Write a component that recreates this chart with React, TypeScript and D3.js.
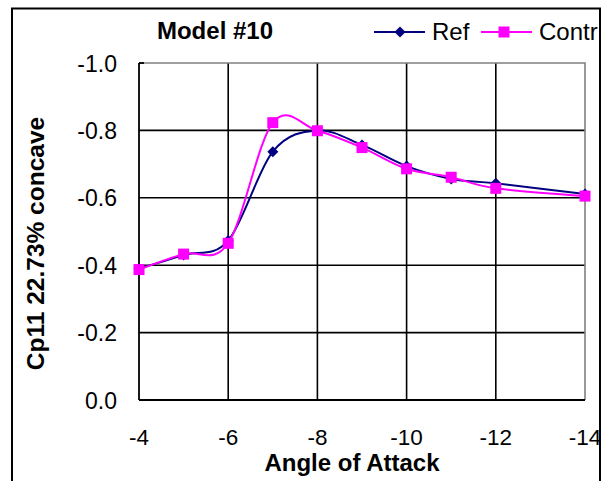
import React from "react";
import * as d3 from "d3";

const angles = [-4, -5, -6, -7, -8, -9, -10, -11, -12, -14];
const refValues = [-0.39, -0.43, -0.473, -0.737, -0.8, -0.757, -0.694, -0.656, -0.643, -0.611];
const contrValues = [-0.387, -0.433, -0.465, -0.823, -0.799, -0.749, -0.686, -0.661, -0.628, -0.605];
const xTicks = [-4, -6, -8, -10, -12, -14];
const yTicks = [0, -0.2, -0.4, -0.6, -0.8, -1.0];

const W = 605;
const H = 481;
const FONT = "'Liberation Sans', Arial, Helvetica, sans-serif";

export default function App() {
  const x = d3.scaleLinear().domain([-4, -14]).range([139, 585]);
  const y = d3.scaleLinear().domain([0, -1]).range([400, 63]);

  const line = d3
    .line<[number, number]>()
    .x((d) => x(d[0]))
    .y((d) => y(d[1]))
    .curve(d3.curveCardinal.tension(0));

  const refPts: [number, number][] = angles.map((a, i) => [a, refValues[i]]);
  const contrPts: [number, number][] = angles.map((a, i) => [a, contrValues[i]]);

  const diamond = (cx: number, cy: number, r: number) =>
    `M${cx},${cy - r}L${cx + r},${cy}L${cx},${cy + r}L${cx - r},${cy}Z`;

  const navy = "#000080";
  const magenta = "#FF00FF";

  return (
    <svg
      width={W}
      height={H}
      style={{ position: "absolute", left: 0, top: 0, background: "#fff" }}
      fontFamily={FONT}
    >
      <rect x={0} y={0} width={W} height={H} fill="#fff" />
      {/* outer frame */}
      <path d={`M12,${H + 2}L12,8.5L600,8.5L600,${H + 2}`} fill="none" stroke="#000" strokeWidth={2} />

      {/* gridlines */}
      {xTicks.slice(1, -1).map((t) => (
        <line key={"gx" + t} x1={x(t)} x2={x(t)} y1={y(-1)} y2={y(0)} stroke="#000" strokeWidth={1.6} />
      ))}
      {yTicks.slice(1, -1).map((t) => (
        <line key={"gy" + t} x1={x(-4)} x2={x(-14)} y1={y(t)} y2={y(t)} stroke="#000" strokeWidth={1.6} />
      ))}
      {/* plot border top/right gray */}
      <path d={`M${x(-4)},${y(-1)}L${x(-14)},${y(-1)}L${x(-14)},${y(0)}`} fill="none" stroke="#808080" strokeWidth={1.6} />
      {/* axes */}
      <line x1={x(-4)} x2={x(-4)} y1={y(-1)} y2={y(0)} stroke="#000" strokeWidth={1.8} />
      <line x1={x(-4)} x2={x(-14)} y1={y(0)} y2={y(0)} stroke="#000" strokeWidth={1.8} />
      <line x1={x(-4)} x2={x(-4) + 5} y1={y(-1)} y2={y(-1)} stroke="#000" strokeWidth={1.8} />

      {/* y tick labels */}
      {yTicks.map((t) => (
        <text key={"yt" + t} x={117} y={y(t) + 8.5} textAnchor="end" fontSize={23}>
          {t.toFixed(1)}
        </text>
      ))}
      {/* x tick labels */}
      {xTicks.map((t) => (
        <text key={"xt" + t} x={x(t)} y={445} textAnchor="middle" fontSize={22.5}>
          {t}
        </text>
      ))}

      {/* series */}
      <path d={line(refPts) || ""} fill="none" stroke={navy} strokeWidth={2} />
      {refPts.map((p, i) => (
        <path key={"rm" + i} d={diamond(x(p[0]), y(p[1]), 5.5)} fill={navy} />
      ))}
      <path d={line(contrPts) || ""} fill="none" stroke={magenta} strokeWidth={2} />
      {contrPts.map((p, i) => (
        <rect key={"cm" + i} x={x(p[0]) - 5.5} y={y(p[1]) - 5.5} width={11} height={11} fill={magenta} />
      ))}

      {/* title */}
      <text x={215} y={39} textAnchor="middle" fontSize={24} fontWeight="bold">
        Model #10
      </text>

      {/* legend */}
      <line x1={374} x2={425} y1={32} y2={32} stroke={navy} strokeWidth={2} />
      <path d={diamond(400, 32, 5.5)} fill={navy} />
      <text x={432} y={39.5} fontSize={24}>Ref</text>
      <line x1={481} x2={532} y1={32} y2={32} stroke={magenta} strokeWidth={2} />
      <rect x={504 - 5.5} y={32 - 5.5} width={11} height={11} fill={magenta} />
      <text x={539} y={39.5} fontSize={24}>Contr</text>

      {/* axis titles */}
      <text x={352} y={471} textAnchor="middle" fontSize={24} fontWeight="bold">
        Angle of Attack
      </text>
      <text
        transform={`translate(44,243.5) rotate(-90)`}
        textAnchor="middle"
        fontSize={24.5}
        fontWeight="bold"
      >
        Cp11 22.73% concave
      </text>
    </svg>
  );
}
